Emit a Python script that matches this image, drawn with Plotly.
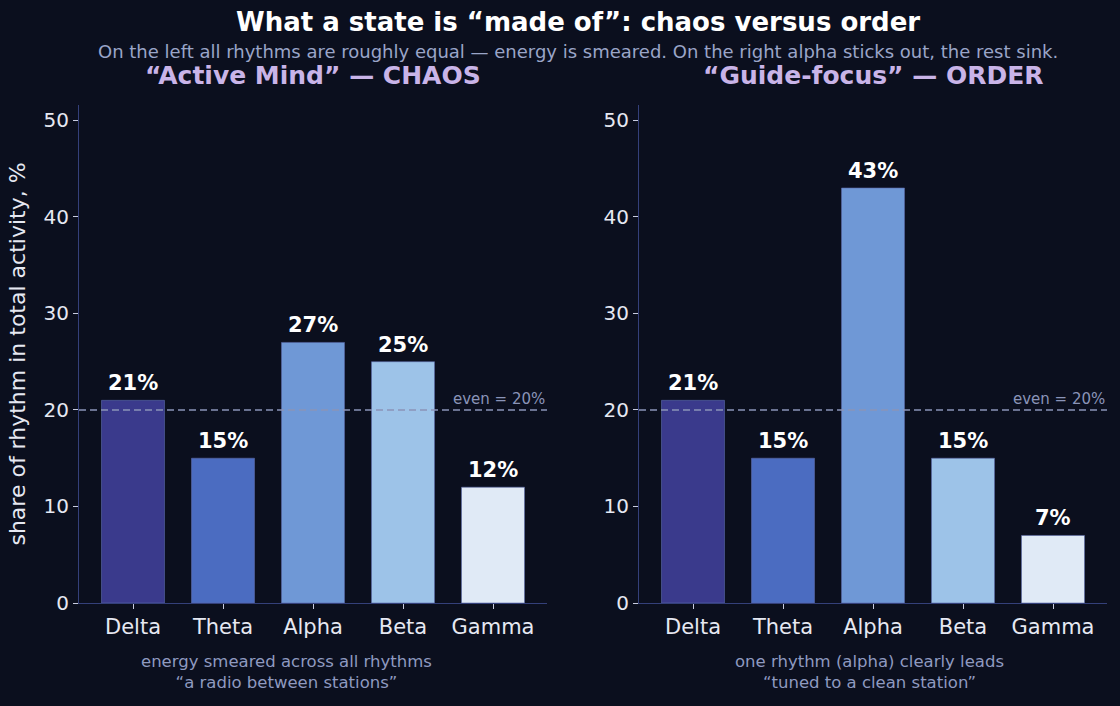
import plotly.graph_objects as go

categories = ["Delta", "Theta", "Alpha", "Beta", "Gamma"]
chaos_values = [21, 15, 27, 25, 12]
order_values = [21, 15, 43, 15, 7]
bar_colors = ["#3a3a8c", "#4b6cc1", "#6f98d6", "#9dc3e8", "#e0eaf6"]
y_ticks = [0, 10, 20, 30, 40, 50]
even_level = 20

BG = "#0b0f1e"
SPINE = "#34407a"
FONT = "DejaVu Sans"

fig = go.Figure()
for vals, xa, ya in [(chaos_values, "x", "y"), (order_values, "x2", "y2")]:
    fig.add_trace(go.Bar(
        x=categories, y=vals, xaxis=xa, yaxis=ya,
        width=0.7,
        marker=dict(color=bar_colors, line=dict(color="#5a6aa8", width=0.6)),
        showlegend=False, hoverinfo="skip",
    ))
    for c, v in zip(categories, vals):
        fig.add_annotation(x=c, y=v, xref=xa, yref=ya, text=f"<b>{v}%</b>",
                           showarrow=False, yanchor="bottom", yshift=3,
                           font=dict(family=FONT, size=21, color="#ffffff"))
    dref = xa + " domain"
    fig.add_shape(type="line", xref=dref, yref=ya, x0=0, x1=1, y0=even_level, y1=even_level,
                  line=dict(color="#8a94b8", width=1.4, dash="7px,4px"))
    fig.add_annotation(x=1, y=even_level, xref=dref, yref=ya, text=f"even = {even_level}%",
                       showarrow=False, xanchor="right", yanchor="bottom", yshift=0,
                       font=dict(family=FONT, size=15, color="#8a94b8"))

axis_common = dict(showgrid=False, zeroline=False, showline=True, linecolor=SPINE, linewidth=1.2,
                   ticks="outside", ticklen=5, tickcolor="#c8cce0", tickwidth=1, automargin=False,
                   tickfont=dict(family=FONT, size=20, color="#e6e8f2"))

fig.update_layout(
    width=1120, height=706,
    paper_bgcolor=BG, plot_bgcolor=BG,
    margin=dict(l=0, r=0, t=0, b=0),
    bargap=0.3,
    xaxis=dict(domain=[79/1120, 547/1120], range=[-0.6, 4.6], anchor="y", **axis_common),
    xaxis2=dict(domain=[639/1120, 1107/1120], range=[-0.6, 4.6], anchor="y2", **axis_common),
    yaxis=dict(domain=[103/706, 601/706], range=[0, 51.6], tickvals=y_ticks, anchor="x",
               title=dict(text="share of rhythm in total activity, %", standoff=11,
                          font=dict(family=FONT, size=22, color="#e6e8f2")),
               **axis_common),
    yaxis2=dict(domain=[103/706, 601/706], range=[0, 51.6], tickvals=y_ticks, anchor="x2", **axis_common),
    font=dict(family=FONT),
)
fig.update_xaxes(tickfont=dict(family=FONT, size=21, color="#e6e8f2"))

texts = [
    (578, 22, "<b>What a state is “made of”: chaos versus order</b>", 26, "#ffffff"),
    (578, 52, "On the left all rhythms are roughly equal — energy is smeared. On the right alpha sticks out, the rest sink.", 18, "#9aa5c8"),
    (313, 75, "<b>“Active Mind” — CHAOS</b>", 25, "#c9b4e8"),
    (873, 75, "<b>“Guide-focus” — ORDER</b>", 25, "#c9b4e8"),
    (286, 672, "energy smeared across all rhythms<br>“a radio between stations”", 16.5, "#8f9ac0"),
    (869, 672, "one rhythm (alpha) clearly leads<br>“tuned to a clean station”", 16.5, "#8f9ac0"),
]
for x, y, t, s, col in texts:
    fig.add_annotation(x=x/1120, y=1 - y/706, xref="paper", yref="paper", text=t, showarrow=False,
                       xanchor="center", yanchor="middle",
                       font=dict(family=FONT, size=s, color=col))

fig.write_html("out.html")
